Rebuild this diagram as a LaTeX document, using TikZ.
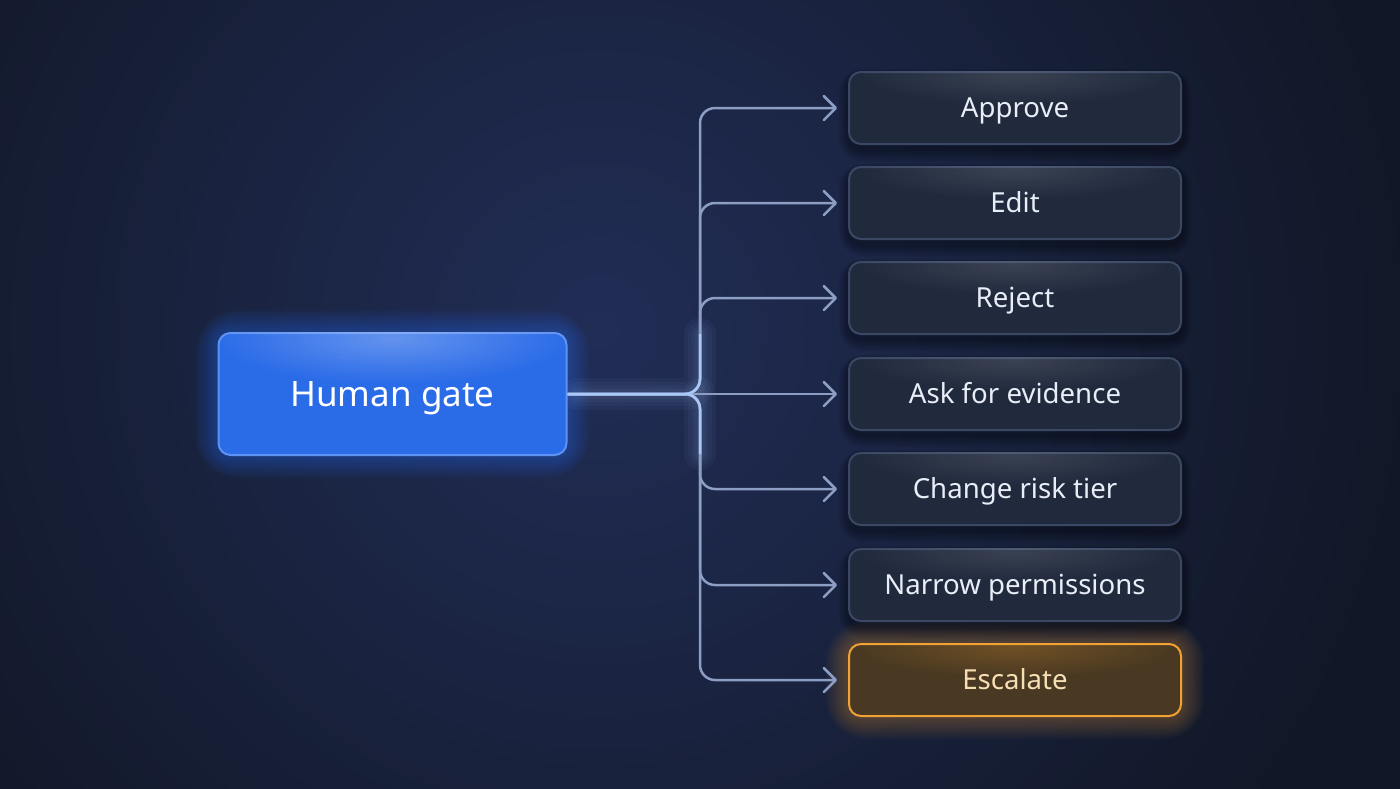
\documentclass[tikz,border=0pt]{standalone}
\usepackage{fontspec}
\setmainfont{Noto Sans}
\usetikzlibrary{arrows.meta,fadings,calc}
\definecolor{bg}{HTML}{111726}
\definecolor{bgglow}{HTML}{212D56}
\definecolor{gatefill}{HTML}{2A6BE8}
\definecolor{gateborder}{HTML}{5E92F2}
\definecolor{gateglow}{HTML}{2F74FF}
\definecolor{boxfill}{HTML}{212A3D}
\definecolor{boxborder}{HTML}{3B4863}
\definecolor{boxtext}{HTML}{E8EDF7}
\definecolor{escfill}{HTML}{4A3922}
\definecolor{escborder}{HTML}{F2A234}
\definecolor{escglow}{HTML}{F2A234}
\definecolor{esctext}{HTML}{F8DFB3}
\definecolor{conncol}{HTML}{8D9EC4}
\definecolor{connbright}{HTML}{A9C8FA}
\pgfdeclarelayer{backdrop}
\pgfdeclarelayer{glowlayer}
\pgfsetlayers{backdrop,glowlayer,main}
\tikzfading[name=softspot, inner color=transparent!10, outer color=transparent!100]
\begin{document}
\begin{tikzpicture}[x=0.5pt,y=-0.5pt,
  optbox/.style={draw=boxborder, fill=boxfill, line width=1pt, rounded corners=6pt,
    minimum width=166pt, minimum height=36pt, inner sep=0pt, text=boxtext,
    font=\fontsize{13.8}{16}\selectfont, text height=9.85pt, text depth=0pt},
  escbox/.style={optbox, draw=escborder, fill=escfill, text=esctext},
  gatebox/.style={draw=gateborder, fill=gatefill, line width=1pt, rounded corners=6pt,
    minimum width=174pt, minimum height=61pt, inner sep=0pt, text=white,
    font=\fontsize{17.5}{21}\selectfont, text height=12.5pt, text depth=0pt},
  conn/.style={draw=conncol, line width=1.25pt, rounded corners=7.5pt,
    -{Straight Barb[length=6pt,width=12pt,round]}, shorten >=5.5pt},
]
\useasboundingbox (0,0) rectangle (1400,788);
% background
\begin{pgfonlayer}{backdrop}
  \fill[bg] (-10,-10) rectangle (1410,798);
  \begin{scope}
    \clip (-10,-10) rectangle (1410,798);
    \shade[inner color=bgglow, outer color=bg] (600,330) circle (820);
  \end{scope}
\end{pgfonlayer}

% nodes
\node[gatebox] (gate) at (392.5,394) {Human gate};
\node[optbox] (o1) at (1015,108) {Approve};
\node[optbox] (o2) at (1015,203) {Edit};
\node[optbox] (o3) at (1015,298) {Reject};
\node[optbox] (o4) at (1015,394) {Ask for evidence};
\node[optbox] (o5) at (1015,489) {Change risk tier};
\node[optbox] (o6) at (1015,585) {Narrow permissions};
\node[escbox] (o7) at (1015,680) {Escalate};
\coordinate (bx) at (700,394);

% glows and shadows
\begin{pgfonlayer}{glowlayer}
  \foreach \i in {1,...,10}{
    \fill[gateglow, opacity=0.04, rounded corners={6pt+\i*1.5pt}]
      ($(gate.south west)+(-\i*2.2,\i*2.2)$) rectangle ($(gate.north east)+(\i*2.2,-\i*2.2)$);
  }
  \foreach \i in {1,...,10}{
    \fill[escglow, opacity=0.03, rounded corners={6pt+\i*1.4pt}]
      ($(o7.south west)+(-\i*2.2,\i*2.2)$) rectangle ($(o7.north east)+(\i*2.2,-\i*2.2)$);
  }
  \foreach \n in {o1,o2,o3,o4,o5,o6}{
    \foreach \i in {1,...,6}{
      \fill[black, opacity=0.06, rounded corners={6pt+\i*1pt}]
        ($(\n.south west)+(-\i*1.5,\i*2+4)$) rectangle ($(\n.north east)+(\i*1.5,-\i*1+4)$);
    }
  }
  % connector glow near junction
  \foreach \w in {16,12,8,5}{
    \draw[connbright, opacity=0.045, line width=\w pt, line cap=round, rounded corners=7.5pt]
      ($(gate.east)+(10,0)$) -- (gate.east -| bx) -- ($(bx)+(0,-60)$);
    \draw[connbright, opacity=0.045, line width=\w pt, line cap=round, rounded corners=7.5pt]
      (gate.east -| bx) -- ($(bx)+(0,60)$);
  }
\end{pgfonlayer}

% top highlights inside boxes
\begin{scope}
  \clip[rounded corners=6pt] (gate.south west) rectangle (gate.north east);
  \fill[white, opacity=0.30, path fading=softspot] ($(gate.north)+(0,6)$) ellipse (180 and 46);
\end{scope}
\foreach \n in {o1,o2,o3,o4,o5,o6}{
  \begin{scope}
    \clip[rounded corners=6pt] (\n.south west) rectangle (\n.north east);
    \fill[white, opacity=0.12, path fading=softspot] ($(\n.north)+(0,4)$) ellipse (160 and 30);
  \end{scope}
}
\begin{scope}
  \clip[rounded corners=6pt] (o7.south west) rectangle (o7.north east);
  \fill[escborder, opacity=0.25, path fading=softspot] ($(o7.north)+(0,4)$) ellipse (160 and 30);
\end{scope}

% connectors
\draw[conn] (gate.east) -- (gate.east -| bx) |- (o1.west);
\draw[conn] (gate.east) -- (gate.east -| bx) |- (o2.west);
\draw[conn] (gate.east) -- (gate.east -| bx) |- (o3.west);
\draw[conn] (gate.east) -- (o4.west);
\draw[conn] (gate.east) -- (gate.east -| bx) |- (o5.west);
\draw[conn] (gate.east) -- (gate.east -| bx) |- (o6.west);
\draw[conn] (gate.east) -- (gate.east -| bx) |- (o7.west);
% brighter trunk near the gate
\draw[connbright, line width=1.25pt, rounded corners=7.5pt]
  (gate.east) -- (gate.east -| bx) -- ($(bx)+(0,-60)$);
\draw[connbright, line width=1.25pt, rounded corners=7.5pt]
  (gate.east) -- (gate.east -| bx) -- ($(bx)+(0,60)$);
\end{tikzpicture}
\end{document}
